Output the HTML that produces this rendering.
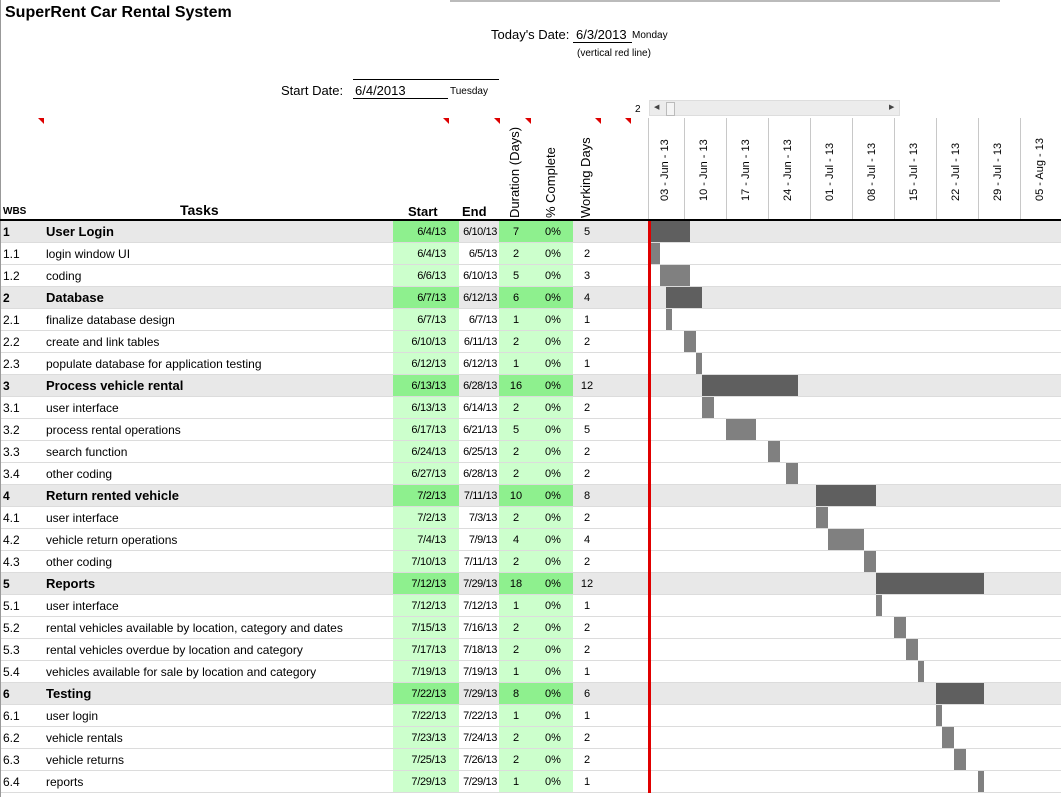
<!DOCTYPE html>
<html><head><meta charset="utf-8"><style>
body{margin:0;width:1061px;height:797px;overflow:hidden;background:#fff;font-family:"Liberation Sans",Arial,sans-serif;position:relative}
.a{position:absolute;white-space:nowrap}
.rot{position:absolute;transform:rotate(-90deg);transform-origin:left top;white-space:nowrap}
</style></head><body>
<div class="a" style="left:0;top:0;width:1px;height:797px;background:#999"></div>
<div class="a" style="left:450px;top:0;width:550px;height:2px;background:#bbb"></div>
<div class="a" style="left:5px;top:4px;font-size:16px;font-weight:bold">SuperRent Car Rental System</div>
<div class="a" style="left:491px;top:27px;font-size:13px">Today's Date:</div>
<div class="a" style="left:573px;top:27px;font-size:13px;border-bottom:1px solid #000;width:56px;padding-left:3px">6/3/2013</div>
<div class="a" style="left:632px;top:30px;font-size:10px">Monday</div>
<div class="a" style="left:577px;top:48px;font-size:10px">(vertical red line)</div>
<div class="a" style="left:281px;top:83px;font-size:13px">Start Date:</div>
<div class="a" style="left:353px;top:79px;width:146px;height:0;border-top:1px solid #000"></div>
<div class="a" style="left:353px;top:83px;font-size:13px;border-bottom:1px solid #000;width:93px;padding-left:2px">6/4/2013</div>
<div class="a" style="left:450px;top:86px;font-size:10px">Tuesday</div>
<div class="a" style="left:635px;top:104px;font-size:10px">2</div>
<div class="a" style="left:649px;top:100px;width:251px;height:16px;background:#ececec;border:1px solid #ddd;box-sizing:border-box">
 <span class="a" style="left:4px;top:2px;font-size:7px;color:#444">◀</span>
 <span class="a" style="left:16px;top:1px;width:7px;height:12px;background:#f4f4f4;border:1px solid #bbb"></span>
 <span class="a" style="left:239px;top:2px;font-size:7px;color:#444">▶</span>
</div>
<div class="a" style="left:3px;top:206px;font-size:10px;font-weight:bold">WBS</div>
<div class="a" style="left:180px;top:202px;font-size:14px;font-weight:bold">Tasks</div>
<div class="a" style="left:408px;top:204px;font-size:13px;font-weight:bold">Start</div>
<div class="a" style="left:462px;top:204px;font-size:13px;font-weight:bold">End</div>
<div class="rot" style="left:507px;top:218px;font-size:13px">Duration (Days)</div>
<div class="rot" style="left:543px;top:218px;font-size:13px">% Complete</div>
<div class="rot" style="left:578px;top:218px;font-size:13px">Working Days</div>
<div id="root"></div>
<script>
const wbs=["1","1.1","1.2","2","2.1","2.2","2.3","3","3.1","3.2","3.3","3.4","4","4.1","4.2","4.3","5","5.1","5.2","5.3","5.4","6","6.1","6.2","6.3","6.4"];
const tasks=["User Login","login window UI","coding","Database","finalize database design","create and link tables","populate database for application testing","Process vehicle rental","user interface","process rental operations","search function","other coding","Return rented vehicle","user interface","vehicle return operations","other coding","Reports","user interface","rental vehicles available by location, category and dates","rental vehicles overdue by location and category","vehicles available for sale by location and category","Testing","user login","vehicle rentals","vehicle returns","reports"];
const starts=["6/4/13","6/4/13","6/6/13","6/7/13","6/7/13","6/10/13","6/12/13","6/13/13","6/13/13","6/17/13","6/24/13","6/27/13","7/2/13","7/2/13","7/4/13","7/10/13","7/12/13","7/12/13","7/15/13","7/17/13","7/19/13","7/22/13","7/22/13","7/23/13","7/25/13","7/29/13"];
const ends=["6/10/13","6/5/13","6/10/13","6/12/13","6/7/13","6/11/13","6/12/13","6/28/13","6/14/13","6/21/13","6/25/13","6/28/13","7/11/13","7/3/13","7/9/13","7/11/13","7/29/13","7/12/13","7/16/13","7/18/13","7/19/13","7/29/13","7/22/13","7/24/13","7/26/13","7/29/13"];
const durations=[7,2,5,6,1,2,1,16,2,5,2,2,10,2,4,2,18,1,2,2,1,8,1,2,2,1];
const complete=["0%","0%","0%","0%","0%","0%","0%","0%","0%","0%","0%","0%","0%","0%","0%","0%","0%","0%","0%","0%","0%","0%","0%","0%","0%","0%"];
const workDays=[5,2,3,4,1,2,1,12,2,5,2,2,8,2,4,2,12,1,2,2,1,6,1,2,2,1];
const weekLabels=["03 - Jun - 13","10 - Jun - 13","17 - Jun - 13","24 - Jun - 13","01 - Jul - 13","08 - Jul - 13","15 - Jul - 13","22 - Jul - 13","29 - Jul - 13","05 - Aug - 13"];

const root=document.getElementById('root');
function mk(name,css,txt,inter){const e=document.createElement('div');e.className='a';


e.style.cssText=css;if(txt!==undefined)e.textContent=txt;root.appendChild(e);return e;}
function dnum(s){const p=s.split('/');return Date.UTC(2000+ +p[2],p[0]-1,+p[1])/86400000;}
const D0=dnum("6/4/13"),X0=648,DAY=6,CHART_R=1061;
function xd(d){return X0+(d-D0)*DAY;}
const ROW0=221,RH=22;
function rowY(i){return ROW0+i*RH;}
for(let k=0;k<weekLabels.length;k++){
 const left=k===0?648:684+(k-1)*42, right=684+k*42;
 mk('week-divider','left:'+left+'px;top:118px;width:1px;height:102px;background:#c8c8c8');
 const l=mk('week-label','left:'+((left+right)/2-7)+'px;top:201px;font-size:11px;transform:rotate(-90deg);transform-origin:left top',weekLabels[k]);
 l.className='rot';
}
[38,443,494,525,595,625].forEach(x=>{mk('comment-marker','left:'+x+'px;top:118px;width:0;height:0;border-top:6px solid #d00;border-left:6px solid transparent');});
mk('header-line','left:0;top:219px;width:1061px;height:2px;background:#000');
for(let i=0;i<wbs.length;i++){
 const y=rowY(i),sum=!wbs[i].includes('.');
 const bg=sum?'#e8e8e8':'#fff';
 mk('row-bg','left:1px;top:'+y+'px;width:1060px;height:'+(RH-1)+'px;background:'+bg+';border-bottom:1px solid #dcdcdc');
 const g=sum?'#8ef08e':'#ccffcc';
 mk('start-cell','left:393px;top:'+y+'px;width:66px;height:'+(RH-1)+'px;background:'+g);
 mk('duration-cell','left:499px;top:'+y+'px;width:74px;height:'+(RH-1)+'px;background:'+g);
 const fw=sum?'bold':'normal';
 mk('wbs','left:3px;top:'+(y+4)+'px;font-size:12px;font-weight:'+fw,wbs[i]);
 mk('task-name','left:46px;top:'+(y+(sum?3:4))+'px;font-size:'+(sum?13:12)+'px;font-weight:'+fw,tasks[i],true);
 mk('start-date','left:393px;width:53px;text-align:right;top:'+(y+5)+'px;font-size:11px;letter-spacing:-0.3px',starts[i]);
 mk('end-date','left:459px;width:38px;text-align:right;top:'+(y+5)+'px;font-size:11px;letter-spacing:-0.4px',ends[i]);
 mk('duration','left:499px;width:34px;text-align:center;top:'+(y+5)+'px;font-size:11px',durations[i]);
 mk('percent-complete','left:533px;width:40px;text-align:center;top:'+(y+5)+'px;font-size:11px',complete[i]);
 mk('working-days','left:573px;width:28px;text-align:center;top:'+(y+5)+'px;font-size:11px',workDays[i]);
 let x1=xd(dnum(starts[i])),x2=xd(dnum(ends[i])+1);
 x1=Math.max(x1,651);x2=Math.min(x2,CHART_R);
 if(x2>x1) mk('gantt-bar-'+wbs[i],'left:'+x1+'px;top:'+(y)+'px;width:'+(x2-x1)+'px;height:'+(RH-1)+'px;background:'+(sum?'#5f5f5f':'#808080'));
}
mk('today-line','left:648px;top:221px;width:3px;height:572px;background:#e00000');
</script>
</body></html>
